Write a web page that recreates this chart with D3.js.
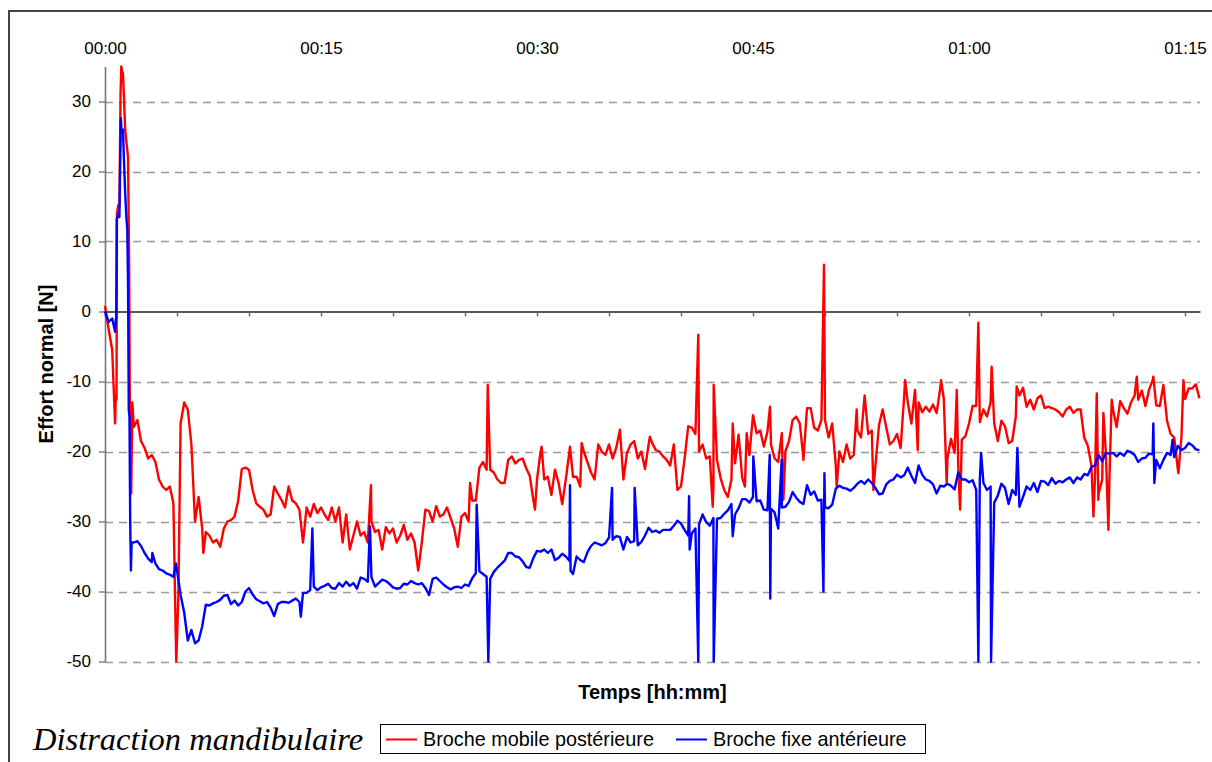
<!DOCTYPE html>
<html>
<head>
<meta charset="utf-8">
<script src="https://cdn.jsdelivr.net/npm/d3@7"></script>
<style>
  html, body { margin: 0; padding: 0; background: #fff; }
  svg { display: block; }
</style>
</head>
<body>
<svg id="chart" width="1212" height="762"></svg>
<script>
// Logged normal force on the two pins during mandibular distraction.
// Regular samples every quarter of a minute, plus brief transients logged between them.
const sampleStep = 0.25; // minutes

const mobileValues = [
  0.8, -2.5, -5.5, -12,
  15, 34, 24, -15,
  -16.5, -15.5, -18.5, -19.5,
  -21, -20.5, -21.5, -24,
  -25, -25.5, -25, -27.4,
  -47, -16, -13, -14,
  -19, -30, -26.5, -31,
  -31.5, -32, -33, -32.6,
  -33.6, -31, -30, -29.8,
  -29.3, -27, -22.5, -22.3,
  -22.6, -25.5, -27.4, -27.9,
  -28.3, -29.3, -29, -25,
  -26, -26.9, -28, -25,
  -27, -27.4, -28.3, -33,
  -28, -29.3, -27.5, -28.8,
  -28, -29, -29.8, -28,
  -30, -28, -33, -29,
  -34, -32, -30, -32,
  -31.5, -33, -30, -31.5,
  -31.2, -34, -30.8, -31.7,
  -31, -33, -32, -30.5,
  -32.6, -31.7, -33, -37,
  -33, -28.3, -28.5, -30,
  -27.8, -29.3, -29, -28,
  -29.5, -31, -33.6, -29.3,
  -28.8, -30, -27, -27,
  -22.3, -21.5, -22.6, -22.6,
  -23, -24, -24.5, -24.5,
  -21.2, -20.7, -21.7, -21.2,
  -21, -22.4, -23.5, -27,
  -24, -20, -24, -23.6,
  -26.2, -22.6, -24.5, -27.5,
  -24, -20, -23.6, -23.6,
  -25, -20, -21.5, -23,
  -24, -19, -20, -20.5,
  -19, -21, -19.5, -17,
  -24, -20.2, -19, -18.5,
  -21, -20, -22.5, -19,
  -18.8, -19.8, -20, -20.7,
  -21.2, -22, -19, -25.5,
  -25, -21, -16.4, -16.6,
  -17.5, -20, -19, -21,
  -20.7, -25, -21.2, -23.8,
  -25.5, -26.5, -24, -21.7,
  -17.6, -23.8, -21, -20.5,
  -14.8, -17.4, -17, -19.3,
  -17.2, -19, -21, -21.5,
  -17.4, -20, -18.5, -15.5,
  -15, -16, -21, -13.8,
  -13.8, -16.6, -17, -15.5,
  -15.5, -18, -16, -22,
  -20, -21.5, -19, -21,
  -20.5, -17, -18, -12,
  -17.5, -17, -22, -16.2,
  -14, -16.5, -19, -18.5,
  -17.5, -19.5, -12, -13,
  -16, -11.2, -13, -14.4,
  -13.6, -14.3, -13.3, -14.5,
  -11, -12.5, -21, -18.2,
  -20.2, -22, -18.3, -17.8,
  -16, -13.5, -13.5, -15.8,
  -14, -15, -13, -16,
  -18.5, -15.6, -16.4, -18.8,
  -18.5, -15, -12, -10.9,
  -13.6, -12.6, -14, -12.4,
  -12, -13.8, -13.6, -13.8,
  -14, -14.4, -15, -14,
  -13.6, -14.5, -14, -14,
  -18, -19.2, -22, -23.6,
  -26, -24, -20, -24,
  -14, -16.5, -12.8, -13.8,
  -14.6, -13, -12, -12.6,
  -11.3, -13.5, -11.2, -9.8,
  -13.4, -13.5, -10.5, -15.6,
  -17.5, -18, -22.5, -18,
  -12.5, -11, -11, -10.4,
  -12.4
];

const fixeValues = [
  0, -1.5, -1, -1.2,
  13.5, 26, 13, -30,
  -33, -32.8, -33.5, -34.5,
  -35.3, -35.8, -36, -36.8,
  -37, -37.4, -37.6, -37.9,
  -37, -40.5, -43, -47,
  -45.5, -47.4, -47, -45,
  -41.9, -42, -41.7, -41.5,
  -41.2, -40.6, -40.5, -41.8,
  -41.3, -42, -41.5, -40,
  -39.5, -40.4, -41.1, -41.4,
  -41.7, -41.5, -42.3, -43.5,
  -41.8, -41.5, -41.5, -41.6,
  -41.3, -41, -41.5, -40.2,
  -40.2, -39.8, -39.3, -39.8,
  -39.4, -39.2, -38.9, -39.5,
  -39.6, -38.8, -39.3, -38.6,
  -39.2, -38.8, -39.6, -38,
  -38.2, -38.6, -37.9, -39.3,
  -38.8, -38.3, -38.5, -38.9,
  -39.4, -39.6, -39.5, -38.9,
  -39, -38.5, -38.8, -39,
  -38.8, -39.5, -40.5, -38.2,
  -38, -38.5, -39, -39.4,
  -39.7, -39.4, -39.3, -39.5,
  -39, -39.2, -38.1, -37.4,
  -37.1, -37.5, -37.9, -38.2,
  -37.2, -36.6, -36.1, -35.6,
  -34.5, -34.5, -35, -35.1,
  -35.7, -36.5, -36.6, -35.2,
  -34.2, -34.3, -34, -34.5,
  -34, -35.5, -35.2, -34.6,
  -35, -35.6, -37.5, -35,
  -35.5, -35.8, -34.4, -33.5,
  -33, -33.2, -33.4, -33.1,
  -32.3, -32.6, -32.1, -32.2,
  -34, -32.2, -33, -32.8,
  -33.4, -32.9, -32, -30.9,
  -31.5, -31.3, -31.6, -31.2,
  -31.2, -31.2, -30.6, -29.9,
  -30.3, -31.2, -32, -31.7,
  -31, -30.4, -29, -30.1,
  -30.6, -29.5, -29.6, -29.5,
  -28.9, -28.4, -27.5, -29,
  -28.1, -26.8, -26.8, -27.3,
  -26.5, -27.1, -27, -28.3,
  -28.4, -28.2, -28.7, -31,
  -28, -27.9, -27.2, -25.8,
  -26.6, -27.2, -27.5, -24.8,
  -26.2, -25.7, -27, -26.9,
  -28, -28.1, -27.6, -25.3,
  -24.9, -25.2, -25.3, -25.6,
  -25.2, -24.6, -24.2, -24.6,
  -24, -24.5, -25.2, -26.1,
  -26, -24.7, -24.2, -24,
  -23.3, -23.7, -23.4, -22.3,
  -23.5, -24.5, -22, -23.3,
  -24, -24.2, -24.7, -26,
  -24.9, -25, -24.6, -24.9,
  -25.4, -23, -24, -24,
  -24.4, -24.1, -25.5, -24,
  -24.5, -25.5, -25, -27.3,
  -26.3, -24.6, -25.2, -27.5,
  -25.5, -26.2, -27.9, -26.5,
  -25, -25.5, -24.5, -25.8,
  -24.2, -24.3, -24.8, -23.8,
  -24.6, -24.2, -24.4, -24,
  -23.7, -24.5, -23.7, -24,
  -23.2, -23.4, -22.2, -22,
  -20.5, -21.4, -20.2, -20.3,
  -20.2, -20.7, -20.2, -20.6,
  -19.9, -20.1, -20.5, -21.5,
  -21, -20.9, -20.3, -20.4,
  -21.2, -22.4, -21.2, -20.2,
  -20.5, -20.8, -19.2, -19.8,
  -19.5, -18.8, -19.1, -19.7,
  -19.8
];

// [minute, force] transients recorded between regular samples
const mobileSpikes = [
  [0.70, -16], [0.80, -12.6], [0.83, 14], [0.92, 15.2], [1.08, 31], [1.13, 35],
  [1.20, 34.2], [1.32, 30.5], [1.40, 26], [1.60, 22], [1.68, 6], [1.72, -12],
  [1.82, -26], [1.90, -13], [4.90, -45], [4.95, -50], [5.10, -40],
  [6.83, -34.5], [18.47, -24.8], [25.35, -24.5], [26.58, -10.5], [29.86, -28.3],
  [30.32, -19.3], [32.29, -19.3], [33.10, -18.8], [35.76, -16.9], [37.84, -17.9],
  [41.20, -3.3], [42.20, -27.9], [42.27, -10.5], [43.59, -16], [44.44, -25],
  [44.56, -17.4], [46.18, -13.6], [47.11, -26.9], [48.50, -21.2], [49.93, 6.7],
  [50.81, -25], [52.20, -14], [53.36, -25.5], [55.56, -9.8], [56.44, -19.8],
  [58.06, -9.8], [58.45, -24.5], [59.15, -11.2], [59.38, -28.3], [60.65, -1.6],
  [61.57, -7.9], [63.31, -10.7], [68.64, -29.3], [68.87, -11.7], [68.98, -26.9],
  [69.33, -14.5], [69.68, -31.2], [69.91, -12.6], [71.65, -9.3], [72.80, -9.3],
  [74.54, -23.1], [74.89, -9.8]
];

const fixeSpikes = [
  [0.70, -2.9], [0.78, -0.8], [0.82, 13.2], [0.95, 14], [1.10, 27.6], [1.15, 25.5],
  [1.30, 22.6], [1.40, 17], [1.48, 13.6], [1.55, 11.7], [1.60, 4], [1.65, -14],
  [1.70, -15], [1.80, -37], [1.85, -33], [3.29, -34.5], [4.93, -36],
  [13.60, -43.6], [14.40, -31], [18.40, -30.7], [25.81, -27.6], [26.62, -50],
  [32.29, -24.8], [32.33, -37], [35.21, -25.2], [36.78, -25.2], [40.56, -26.4],
  [40.60, -34], [41.20, -50], [42.27, -50], [43.59, -32.1], [45.02, -20.7],
  [46.16, -20.5], [46.20, -41], [46.99, -21.2], [49.89, -40], [49.96, -23.1],
  [60.65, -50], [60.84, -20.2], [61.53, -50], [63.36, -19.5], [72.80, -16],
  [72.87, -24.5], [74.14, -18.3]
];

const yTicks = [30, 20, 10, 0, -10, -20, -30, -40, -50];
const minorTicks = d3.range(0, 76, 5);      // minutes, tick marks on the zero line
const timeLabels = [0, 15, 30, 45, 60, 75]; // minutes, labelled along the top

const seriesNames = ["Broche mobile postérieure", "Broche fixe antérieure"];
const seriesColors = ["#ff0000", "#0000ff"];

const SANS = "'Liberation Sans', Arial, sans-serif";
const SERIF = "'Liberation Serif', 'Times New Roman', serif";

function buildSeries(values, spikes) {
  const pts = values.map((v, i) => ({ t: i * sampleStep, v }));
  spikes.forEach(([t, v]) => pts.push({ t, v }));
  return pts.sort((a, b) => a.t - b.t);
}

const svg = d3.select("#chart");

// outer chart frame
svg.append("rect")
  .attr("x", 9).attr("y", 11)
  .attr("width", 1215).attr("height", 765)
  .attr("fill", "#fff").attr("stroke", "#444").attr("stroke-width", 2);

const x = d3.scaleLinear().domain([0, 76.04]).range([105, 1200]);
const y = d3.scaleLinear().domain([-50, 35]).range([661.5, 66.5]);

// dashed horizontal gridlines
svg.append("g")
  .selectAll("line")
  .data(yTicks.filter(d => d !== 0))
  .join("line")
  .attr("x1", x(0)).attr("x2", x.range()[1])
  .attr("y1", d => Math.round(y(d)) + 0.5).attr("y2", d => Math.round(y(d)) + 0.5)
  .attr("stroke", "#9a9a9a").attr("stroke-width", 1.5)
  .attr("stroke-dasharray", "8,6");

// y axis (plain hyphen for negative values)
const yAxis = svg.append("g")
  .attr("transform", `translate(${x(0)},0)`)
  .call(d3.axisLeft(y).tickValues(yTicks).tickSize(6).tickSizeOuter(0).tickPadding(8)
    .tickFormat(d => String(d)));
yAxis.select(".domain").attr("stroke", "#777").attr("stroke-width", 1.6);
yAxis.selectAll(".tick line").attr("stroke", "#777").attr("stroke-width", 1.4);
yAxis.selectAll(".tick text")
  .style("font-family", SANS).style("font-size", "17px").attr("fill", "#000");

// zero line with 5-minute tick marks
const zeroAxis = svg.append("g")
  .attr("transform", `translate(0,${y(0)})`)
  .call(d3.axisBottom(x).tickValues(minorTicks).tickSize(5).tickSizeOuter(0).tickFormat(""));
zeroAxis.select(".domain").attr("stroke", "#222").attr("stroke-width", 1.6);
zeroAxis.selectAll(".tick line").attr("stroke", "#666").attr("stroke-width", 1.4);

// time labels across the top
const fmt2 = d3.format("02d");
const topAxis = svg.append("g")
  .attr("transform", `translate(0,${y(35)})`)
  .call(d3.axisTop(x).tickValues(timeLabels).tickSize(0).tickPadding(13)
    .tickFormat(m => `${fmt2(Math.floor(m / 60))}:${fmt2(m % 60)}`));
topAxis.select(".domain").remove();
topAxis.selectAll(".tick text")
  .style("font-family", SANS).style("font-size", "17px").attr("fill", "#000");

// series lines
const line = d3.line().x(d => x(d.t)).y(d => y(d.v));
const series = [buildSeries(mobileValues, mobileSpikes), buildSeries(fixeValues, fixeSpikes)];
svg.append("g")
  .selectAll("path")
  .data(series)
  .join("path")
  .attr("d", line)
  .attr("fill", "none")
  .attr("stroke", (d, i) => seriesColors[i])
  .attr("stroke-width", 2.4)
  .attr("stroke-linejoin", "round");

// axis titles
svg.append("text")
  .attr("transform", `translate(53,${(y(35) + y(-50)) / 2}) rotate(-90)`)
  .attr("text-anchor", "middle")
  .style("font-family", SANS).style("font-size", "20px").style("font-weight", "bold")
  .text("Effort normal [N]");

svg.append("text")
  .attr("x", (x.range()[0] + x.range()[1]) / 2).attr("y", 699)
  .attr("text-anchor", "middle")
  .style("font-family", SANS).style("font-size", "20px").style("font-weight", "bold")
  .text("Temps [hh:mm]");

// caption
svg.append("text")
  .attr("x", 33).attr("y", 750)
  .style("font-family", SERIF).style("font-style", "italic").style("font-size", "32.5px")
  .text("Distraction mandibulaire");

// legend
const legend = svg.append("g");
legend.append("rect")
  .attr("x", 380.5).attr("y", 724.5).attr("width", 545).attr("height", 29)
  .attr("fill", "#fff").attr("stroke", "#000").attr("stroke-width", 1);
const legendX = [386, 676];
seriesNames.forEach((name, i) => {
  legend.append("line")
    .attr("x1", legendX[i]).attr("x2", legendX[i] + 31)
    .attr("y1", 739.5).attr("y2", 739.5)
    .attr("stroke", seriesColors[i]).attr("stroke-width", 2);
  legend.append("text")
    .attr("x", legendX[i] + 37).attr("y", 746)
    .style("font-family", SANS).style("font-size", "19.8px")
    .text(name);
});
</script>
</body>
</html>
